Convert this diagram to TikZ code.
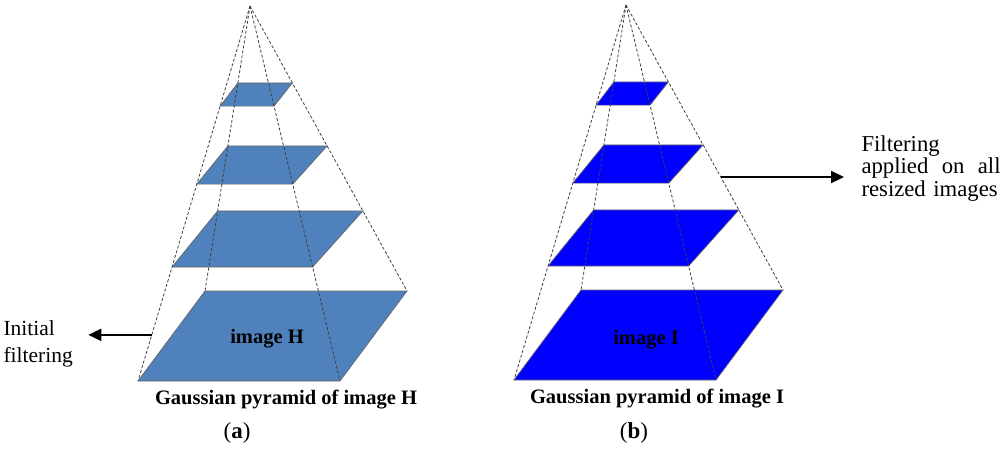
\documentclass[tikz,border=0pt]{standalone}
\usepackage{fontspec}
\setmainfont{Liberation Serif}
\usepackage{tikz}
\usetikzlibrary{calc,arrows.meta}
\definecolor{pyrblue}{RGB}{79,129,189}
\definecolor{pureblue}{RGB}{0,0,255}

\begin{document}
\begin{tikzpicture}[x=1pt,y=-1pt,
    slice/.style   = {draw=black!60, line width=0.7pt},
    rim/.style     = {draw=black!75, line width=0.8pt, dash pattern=on 3pt off 2pt},
    caption/.style = {font=\fontsize{20.5}{24}\selectfont\bfseries, anchor=base},
    note/.style    = {font=\fontsize{21.5}{27}\selectfont, align=left},
    pointer/.style = {line width=2.2pt, -{Triangle[length=13pt,width=12pt]}}
  ]
  \useasboundingbox (0,0) rectangle (1000,452);

  % the two pyramids (shift / fill / suffix)
  \foreach \dx/\dy/\col/\p in {0/0/pyrblue/A, 376/-1/pureblue/B} {
    \begin{scope}[shift={(\dx,\dy)}]
      \coordinate (top\p) at (250,6);
      \coordinate (tl\p) at (205,291);
      \coordinate (tr\p) at (407,291);
      \coordinate (br\p) at (340,381);
      \coordinate (bl\p) at (138,381);
    \end{scope}
    % resized images, top to bottom
    \foreach \hi/\lo in {0.27/0.267, 0.491/0.475, 0.719/0.696, 1/1}
      \filldraw[slice, fill=\col] ($(top\p)!\hi!(tl\p)$) -- ($(top\p)!\hi!(tr\p)$)
        -- ($(top\p)!\lo!(br\p)$) -- ($(top\p)!\lo!(bl\p)$) -- cycle;
    \foreach \c in {tl,tr,br,bl}
      \draw[rim] (top\p) -- (\c\p);
  }

  % labels
  \node[caption] (imgH) at (267,343) {image H};
  \node[caption] (capH) at (286,404) {Gaussian pyramid of image H};
  \node[caption, font=\fontsize{23}{26}\selectfont] (subA) at (237,438) {(\textbf{a})};
  \node[caption] (imgI) at (646,344) {image I};
  \node[caption] (capI) at (657,403) {Gaussian pyramid of image I};
  \node[caption, font=\fontsize{23}{26}\selectfont] (subB) at (634,438) {(\textbf{b})};

  % notes with arrows
  \coordinate (startA) at ($(topA)!0.877!(blA)$);
  \node[note, anchor=north west] (initial) at (0,317) {Initial\\filtering};
  \draw[pointer, shorten >=12pt] (startA) -- (startA -| initial.east);

  \coordinate (startB) at ($(topB)!0.6035!(trB)$);
  \node[note, font=\fontsize{22.7}{22.7}\selectfont, text width=139pt,
        anchor=north west] (filter) at (858,132)
    {Filtering\\applied\hfill on\hfill all\\\mbox{resized images}};
  \draw[pointer, shorten >=14pt] (startB) -- (startB -| filter.west);
\end{tikzpicture}
\end{document}
